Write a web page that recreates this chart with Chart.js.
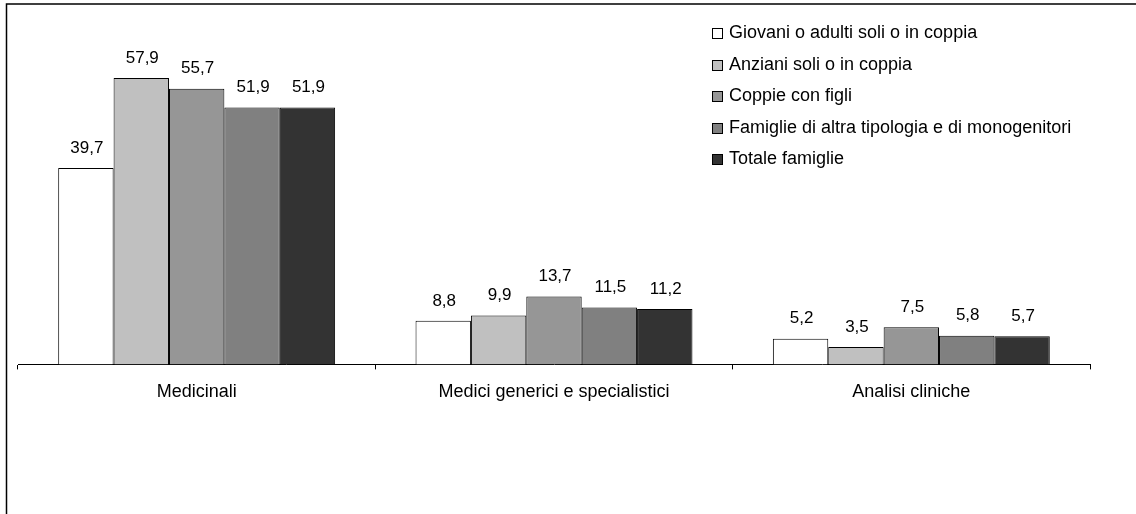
<!DOCTYPE html>
<html>
<head>
<meta charset="utf-8">
<script src="https://cdn.jsdelivr.net/npm/chart.js@4.4.1/dist/chart.umd.min.js"></script>
<style>
  html, body { margin: 0; padding: 0; background: #fff; }
  #wrap { position: relative; width: 1136px; height: 514px; }
  canvas { display: block; }
</style>
</head>
<body>
<div id="wrap"><canvas id="c" width="1136" height="514"></canvas></div>
<script>
const categories = ["Medicinali", "Medici generici e specialistici", "Analisi cliniche"];
const seriesNames = [
  "Giovani o adulti soli o in coppia",
  "Anziani soli o in coppia",
  "Coppie con figli",
  "Famiglie di altra tipologia e di monogenitori",
  "Totale famiglie"
];
const giovani = [39.7, 8.8, 5.2];
const anziani = [57.9, 9.9, 3.5];
const coppie = [55.7, 13.7, 7.5];
const altre = [51.9, 11.5, 5.8];
const totale = [51.9, 11.2, 5.7];
const seriesValues = [giovani, anziani, coppie, altre, totale];
const seriesColors = ["#ffffff", "#c0c0c0", "#969696", "#808080", "#333333"];

const FONT = '"Liberation Sans", Arial, sans-serif';

const labelPlugin = {
  id: 'valueLabels',
  afterDatasetsDraw(chart) {
    const ctx = chart.ctx;
    ctx.save();
    ctx.font = '17px ' + FONT;
    ctx.fillStyle = '#000';
    ctx.textAlign = 'center';
    ctx.textBaseline = 'middle';
    chart.data.datasets.forEach((ds, i) => {
      const meta = chart.getDatasetMeta(i);
      meta.data.forEach((el, j) => {
        const v = ds.data[j];
        ctx.fillText(v.toFixed(1).replace('.', ','), el.x + 1, el.y - 20);
      });
    });
    ctx.restore();
  }
};

const legendPlugin = {
  id: 'customLegend',
  afterDraw(chart) {
    const ctx = chart.ctx;
    ctx.save();
    ctx.font = '18px ' + FONT;
    ctx.textAlign = 'left';
    ctx.textBaseline = 'middle';
    const x0 = 712, y0 = 33, step = 31.6;
    chart.data.datasets.forEach((ds, i) => {
      const y = y0 + i * step;
      ctx.fillStyle = ds.backgroundColor;
      ctx.fillRect(x0 + 0.5, Math.round(y - 5) + 0.5, 10, 10);
      ctx.strokeStyle = '#000';
      ctx.lineWidth = 1;
      ctx.strokeRect(x0 + 0.5, Math.round(y - 5) + 0.5, 10, 10);
      ctx.fillStyle = '#000';
      ctx.fillText(ds.label, 729, y);
    });
    // outer frame (top and left edges)
    ctx.strokeStyle = '#000';
    ctx.lineWidth = 1.5;
    ctx.beginPath();
    ctx.moveTo(6.5, 514);
    ctx.lineTo(6.5, 4);
    ctx.lineTo(1136, 4);
    ctx.stroke();
    ctx.restore();
  }
};

new Chart(document.getElementById('c'), {
  type: 'bar',
  data: {
    labels: categories,
    datasets: seriesNames.map((name, i) => ({
      label: name,
      data: seriesValues[i],
      backgroundColor: seriesColors[i],
      borderColor: '#000',
      borderWidth: 1,
      categoryPercentage: 0.775,
      barPercentage: 1.0
    }))
  },
  options: {
    responsive: false,
    animation: false,
    devicePixelRatio: 1,
    layout: { padding: { left: 18, right: 46, top: 18, bottom: 99 } },
    plugins: { legend: { display: false }, tooltip: { enabled: false } },
    scales: {
      y: { display: false, min: 0, max: 70 },
      x: {
        offset: true,
        border: { display: true, color: '#000', width: 1 },
        grid: { display: true, offset: true, drawOnChartArea: false, drawTicks: true, tickLength: 5, color: '#000' },
        ticks: { color: '#000', font: { family: FONT, size: 18 }, padding: 12, maxRotation: 0 }
      }
    }
  },
  plugins: [labelPlugin, legendPlugin]
});
</script>
</body>
</html>
